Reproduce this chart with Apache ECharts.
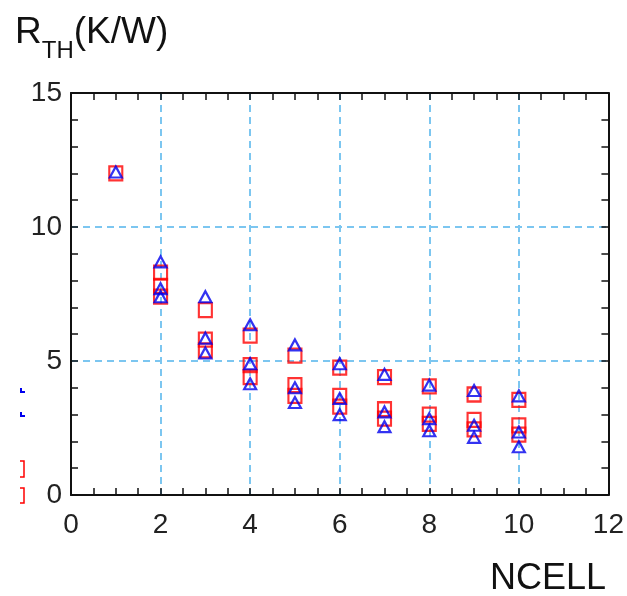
<!DOCTYPE html>
<html><head><meta charset="utf-8">
<script src="https://cdn.jsdelivr.net/npm/echarts@6/dist/echarts.min.js"></script>
<style>html,body{margin:0;padding:0;background:#fff}#c{width:627px;height:596px}</style>
</head><body><div id="c"></div>
<script>
const ncell = [1,2,2,2,3,3,3,4,4,4,5,5,5,6,6,6,7,7,7,8,8,8,9,9,9,10,10,10];
const rthSquare = [12.0,8.3,7.8,7.4,6.9,5.8,5.4,5.95,4.85,4.4,5.2,4.1,3.7,4.75,3.7,3.3,4.4,3.2,2.85,4.05,3.0,2.65,3.75,2.8,2.45,3.55,2.6,2.25];
const ncellTri = [1,2,2,2,3,3,3,4,4,4,5,5,5,6,6,6,7,7,7,8,8,8,9,9,9,10,10,10];
const rthTriangle = [12.05,8.7,7.7,7.4,7.4,5.85,5.3,6.35,4.9,4.15,5.6,4.0,3.45,4.9,3.6,3.0,4.5,3.1,2.55,4.1,2.85,2.4,3.9,2.6,2.15,3.7,2.35,1.8];
const xTicks = [0,2,4,6,8,10,12];
const yTicks = [0,5,10,15];

const chart = echarts.init(document.getElementById('c'));
const font = 'Liberation Sans, Arial, sans-serif';
const gridLine = {show:true,lineStyle:{color:'#7cc6f0',type:[7,5],width:2}};
const axisLine = {show:true,onZero:false,lineStyle:{color:'#111',width:2}};
const axisTick = {show:true,inside:true,length:7,lineStyle:{color:'#111',width:1.5}};
const minor = n => ({show:true,splitNumber:n,length:7,lineStyle:{color:'#111',width:1.5}});
chart.setOption({
  animation:false,
  title:[
    {text:'{a|R}{b|TH}{a|(K/W)}',left:10,top:6,textStyle:{rich:{
      a:{fontFamily:font,fontSize:37,fontWeight:'normal',color:'#111',verticalAlign:'bottom',lineHeight:40},
      b:{fontFamily:font,fontSize:24,fontWeight:'normal',color:'#111',verticalAlign:'bottom',lineHeight:32,padding:[0,0,-12,0]}}}},
    {text:'NCELL',left:485,top:556,textStyle:{fontFamily:font,fontSize:36,fontWeight:'normal',color:'#111'}}
  ],
  grid:{left:71,right:17,top:93,bottom:101},
  xAxis:[
    {type:'value',min:xTicks[0],max:xTicks[xTicks.length-1],interval:2,
      axisLine,axisTick,minorTick:minor(4),
      axisLabel:{fontFamily:font,fontSize:28,color:'#222',margin:16},
      splitLine:gridLine},
    {type:'value',position:'top',min:xTicks[0],max:xTicks[xTicks.length-1],interval:2,
      axisLine,axisTick,minorTick:minor(4),
      axisLabel:{show:false},splitLine:{show:false}}
  ],
  yAxis:[
    {type:'value',min:yTicks[0],max:yTicks[yTicks.length-1],interval:5,
      axisLine,axisTick,minorTick:minor(5),
      axisLabel:{fontFamily:font,fontSize:28,color:'#222',margin:9},
      splitLine:gridLine},
    {type:'value',position:'right',min:yTicks[0],max:yTicks[yTicks.length-1],interval:5,
      axisLine,axisTick,minorTick:minor(5),
      axisLabel:{show:false},splitLine:{show:false}}
  ],
  series:[
    {type:'scatter',data:ncell.map((x,i)=>[x,rthSquare[i]]),symbol:'rect',symbolSize:[13,14],
      itemStyle:{color:'rgba(255,255,255,0)',borderColor:'#ff0000',borderWidth:2.2},z:3},
    {type:'scatter',data:ncellTri.map((x,i)=>[x,rthTriangle[i]]),symbol:'triangle',symbolSize:[12,11],
      itemStyle:{color:'rgba(255,255,255,0)',borderColor:'#0000ee',borderWidth:2.2},z:4}
  ],
  graphic:[
    {type:'polyline',shape:{points:[[21,388],[21,392],[25,392]]},style:{stroke:'#0000ee',lineWidth:2,fill:null}},
    {type:'polyline',shape:{points:[[21,412],[21,416],[25,416]]},style:{stroke:'#0000ee',lineWidth:2,fill:null}},
    {type:'polyline',shape:{points:[[20,461],[24,461],[24,477],[20,477]]},style:{stroke:'#ff0000',lineWidth:1.5,fill:null}},
    {type:'polyline',shape:{points:[[20,488],[24,488],[24,503],[20,503]]},style:{stroke:'#ff0000',lineWidth:1.5,fill:null}}
  ]
});
</script></body></html>
